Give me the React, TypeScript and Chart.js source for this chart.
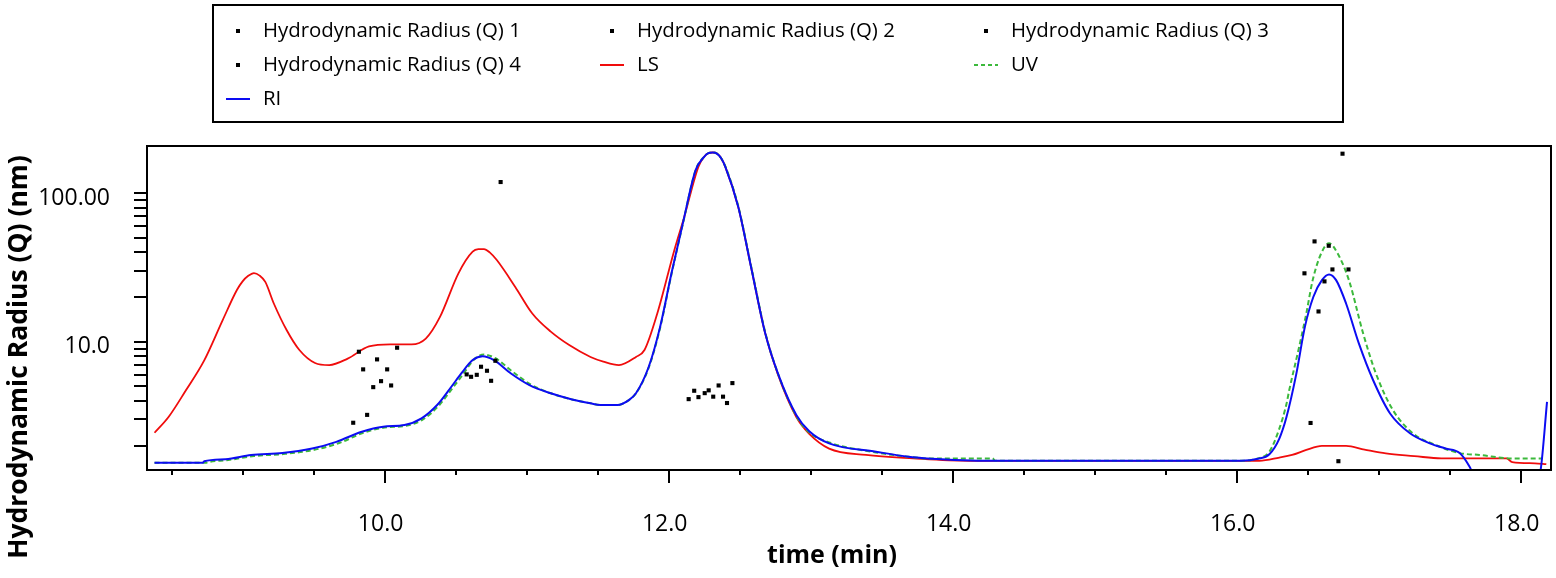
import React, { useEffect, useRef } from 'react';
import { Chart, registerables } from 'chart.js';
Chart.register(...registerables);

// ---------- data ----------
const LS_T = [8.38, 8.48, 8.60, 8.73, 8.86, 8.96, 9.00, 9.04, 9.08, 9.12, 9.16, 9.22, 9.31, 9.40, 9.51, 9.61, 9.74, 9.89, 10.04, 10.19, 10.29, 10.39, 10.52, 10.62, 10.66, 10.70, 10.74, 10.79, 10.92, 11.04, 11.17, 11.30, 11.45, 11.54, 11.65, 11.77, 11.83, 11.92, 12.04, 12.11, 12.21, 12.25, 12.28, 12.31, 12.34, 12.37, 12.40, 12.49, 12.58, 12.68, 12.77, 12.90, 12.99, 13.13, 13.39, 13.72, 14.11, 16.16, 16.30, 16.39, 16.49, 16.60, 16.77, 16.90, 17.05, 17.25, 17.44, 17.58, 17.90, 17.94, 18.10, 18.18];
const LS_V = [2.44, 3.13, 4.7, 7.5, 14.0, 22.3, 25.5, 27.8, 29.0, 27.9, 25.3, 18.1, 12.0, 8.8, 7.2, 6.97, 7.7, 9.3, 9.6, 9.6, 10.5, 14.7, 28.9, 40.4, 42.0, 42.1, 40.0, 35.5, 23.4, 15.5, 11.7, 9.5, 7.9, 7.35, 6.97, 7.9, 8.8, 15.5, 41.4, 69.3, 151, 176, 186, 188, 185, 172, 150, 81, 32, 11.4, 6.0, 3.1, 2.4, 1.91, 1.73, 1.64, 1.58, 1.58, 1.66, 1.73, 1.87, 1.99, 1.99, 1.88, 1.77, 1.70, 1.64, 1.64, 1.64, 1.55, 1.52, 1.50];

const UV_T = [8.38, 8.74, 8.76, 8.90, 9.08, 9.30, 9.50, 9.68, 9.85, 10.0, 10.15, 10.27, 10.38, 10.48, 10.55, 10.63, 10.70, 10.78, 10.90, 11.03, 11.17, 11.32, 11.45, 11.52, 11.64, 11.72, 11.77, 11.86, 11.94, 12.02, 12.10, 12.19, 12.25, 12.28, 12.31, 12.34, 12.37, 12.40, 12.49, 12.58, 12.68, 12.77, 12.90, 12.99, 13.13, 13.46, 13.69, 13.82, 14.28, 14.30, 16.03, 16.15, 16.23, 16.30, 16.35, 16.37, 16.44, 16.49, 16.535, 16.595, 16.65, 16.71, 16.79, 16.89, 16.98, 17.10, 17.24, 17.40, 17.57, 17.71, 17.94, 18.15];
const UV_V = [1.53, 1.53, 1.55, 1.60, 1.70, 1.76, 1.87, 2.08, 2.44, 2.65, 2.72, 3.0, 3.7, 4.9, 6.0, 7.6, 8.2, 7.75, 6.3, 5.15, 4.5, 4.09, 3.85, 3.75, 3.75, 4.05, 4.5, 6.7, 12.4, 28.5, 62, 143, 176, 186, 188, 185, 172, 151, 82, 32.5, 11.6, 6.1, 3.15, 2.45, 2.1, 1.80, 1.68, 1.64, 1.64, 1.58, 1.58, 1.64, 1.82, 2.6, 3.8, 4.73, 9.26, 15.5, 26.0, 39.4, 46.0, 39.4, 26.0, 11.4, 6.12, 3.47, 2.42, 2.02, 1.78, 1.73, 1.64, 1.64];

const RI_T = [8.38, 8.72, 8.73, 8.88, 9.06, 9.28, 9.49, 9.66, 9.84, 9.99, 10.14, 10.26, 10.37, 10.47, 10.54, 10.62, 10.69, 10.77, 10.89, 11.02, 11.17, 11.32, 11.45, 11.52, 11.64, 11.72, 11.77, 11.86, 11.94, 12.02, 12.10, 12.19, 12.25, 12.28, 12.31, 12.34, 12.37, 12.40, 12.49, 12.58, 12.68, 12.77, 12.90, 12.99, 13.13, 13.46, 13.69, 13.82, 14.27, 16.03, 16.15, 16.23, 16.30, 16.35, 16.42, 16.48, 16.54, 16.60, 16.65, 16.70, 16.77, 16.86, 16.96, 17.08, 17.22, 17.36, 17.47, 17.57, 17.64, 17.70, 18.10, 18.14, 18.185];
const RI_V = [1.53, 1.53, 1.57, 1.62, 1.73, 1.78, 1.91, 2.12, 2.48, 2.68, 2.75, 3.05, 3.75, 4.98, 6.12, 7.53, 8.0, 7.53, 6.12, 5.11, 4.5, 4.09, 3.85, 3.75, 3.75, 4.05, 4.5, 6.79, 12.6, 28.9, 62.7, 143, 176, 186, 188, 185, 172, 150, 81, 32, 11.4, 6.1, 3.2, 2.5, 2.07, 1.82, 1.68, 1.64, 1.58, 1.58, 1.63, 1.75, 2.23, 3.1, 6.1, 12.6, 20.1, 26.0, 28.4, 26.0, 18.1, 9.75, 5.53, 3.29, 2.42, 2.07, 1.91, 1.78, 1.44, 1.1, 1.1, 1.37, 3.94];

const Q1_T = [9.779, 9.819, 9.849, 9.877, 9.92, 9.947, 9.975, 10.018, 10.046, 10.088];
const Q1_V = [2.85, 8.57, 6.52, 3.22, 4.95, 7.61, 5.43, 6.52, 5.08, 9.12];
const Q2_T = [10.578, 10.609, 10.649, 10.679, 10.721, 10.75, 10.78, 10.817];
const Q2_V = [6.03, 5.81, 5.99, 6.79, 6.38, 5.46, 7.45, 119];
const Q3_T = [12.141, 12.18, 12.21, 12.254, 12.282, 12.314, 12.352, 12.383, 12.411, 12.449];
const Q3_V = [4.11, 4.68, 4.24, 4.51, 4.71, 4.27, 5.08, 4.27, 3.87, 5.27];
const Q4_T = [16.477, 16.52, 16.548, 16.576, 16.618, 16.648, 16.674, 16.716, 16.745, 16.787];
const Q4_V = [28.9, 2.84, 47.4, 16.0, 25.5, 44.3, 30.7, 1.57, 184.6, 30.7];

const X_MAJOR_TICKS = [10, 12, 14, 16, 18];
const X_TICK_LABELS = ['10.0', '12.0', '14.0', '16.0', '18.0'];
const X_MINOR_TICKS = [8.5, 9, 9.5, 10.5, 11, 11.5, 12.5, 13, 13.5, 14.5, 15, 15.5, 16.5, 17, 17.5];
const Y_TICKS = [2, 3, 4, 5, 6, 7, 8, 9, 10, 20, 30, 40, 50, 60, 70, 80, 90, 100];
const Y_TICK_LABELS = ['', '', '', '', '', '', '', '', '10.0', '', '', '', '', '', '', '', '', '100.00'];

const SERIES_NAMES = ['Hydrodynamic Radius (Q) 1', 'Hydrodynamic Radius (Q) 2', 'Hydrodynamic Radius (Q) 3', 'Hydrodynamic Radius (Q) 4', 'LS', 'UV', 'RI'];
const X_TITLE = 'time (min)';
const Y_TITLE = 'Hydrodynamic Radius (Q) (nm)';

const RED = '#f00c0c';
const GREEN = '#3cb93c';
const BLUE = '#0c0cf2';
const FONT = '"Open Sans", "Noto Sans", sans-serif';

const pts = (t: number[], v: number[]) => t.map((x, i) => ({ x, y: v[i] }));

const decor = {
  id: 'decor',
  afterDatasetsDraw(chart: any) {
    const { ctx, chartArea } = chart;
    const xs = chart.scales.x;
    ctx.save();
    ctx.strokeStyle = '#000';
    ctx.lineWidth = 2;
    ctx.strokeRect(chartArea.left, chartArea.top, chartArea.right - chartArea.left, chartArea.bottom - chartArea.top);
    ctx.beginPath();
    for (const v of X_MAJOR_TICKS) {
      const px = Math.round(xs.getPixelForValue(v));
      ctx.moveTo(px, chartArea.bottom);
      ctx.lineTo(px, chartArea.bottom + 13);
    }
    for (const v of X_MINOR_TICKS) {
      const px = Math.round(xs.getPixelForValue(v));
      ctx.moveTo(px, chartArea.bottom);
      ctx.lineTo(px, chartArea.bottom + 5);
    }
    ctx.stroke();
    ctx.restore();
  },
  afterDraw(chart: any) {
    const { ctx } = chart;
    ctx.save();
    // legend box
    ctx.strokeStyle = '#000';
    ctx.lineWidth = 2;
    ctx.strokeRect(213, 5, 1130, 117);
    ctx.font = `20.4px ${FONT}`;
    ctx.fillStyle = '#000';
    ctx.textBaseline = 'middle';
    ctx.textAlign = 'left';
    const cols = [238, 612, 986];
    const rows = [31, 65, 99];
    const kinds = ['pt', 'pt', 'pt', 'pt', RED, GREEN, BLUE];
    SERIES_NAMES.forEach((name, i) => {
      const c = cols[i % 3];
      const r = rows[Math.floor(i / 3)];
      const k = kinds[i];
      if (k === 'pt') {
        ctx.fillStyle = '#000';
        ctx.fillRect(c - 2, r - 2, 4, 4);
      } else {
        ctx.strokeStyle = k;
        ctx.lineWidth = 2;
        ctx.setLineDash(k === GREEN ? [4, 3] : []);
        ctx.beginPath();
        ctx.moveTo(c - 12, r);
        ctx.lineTo(c + 12, r);
        ctx.stroke();
        ctx.setLineDash([]);
      }
      ctx.fillStyle = '#000';
      ctx.fillText(name, c + 25, r);
    });
    // axis titles
    ctx.font = `bold 25px ${FONT}`;
    ctx.textAlign = 'center';
    ctx.textBaseline = 'middle';
    ctx.fillText(X_TITLE, 832, 556);
    ctx.font = `bold 26.5px ${FONT}`;
    ctx.translate(19, 357);
    ctx.rotate(-Math.PI / 2);
    ctx.fillText(Y_TITLE, 0, 0);
    ctx.restore();
  },
};

export default function App() {
  const ref = useRef<HTMLCanvasElement>(null);
  useEffect(() => {
    if (!ref.current) return;
    const scatterStyle = { showLine: false, pointStyle: 'rect', pointRadius: 2.9, pointBackgroundColor: '#000', pointBorderWidth: 0, backgroundColor: '#000', borderColor: '#000', order: 0 };
    const lineStyle = { showLine: true, pointRadius: 0, borderWidth: 2, cubicInterpolationMode: 'monotone', clip: 0 };
    const chart = new Chart(ref.current, {
      type: 'scatter',
      data: {
        datasets: [
          { label: SERIES_NAMES[0], data: pts(Q1_T, Q1_V), ...scatterStyle },
          { label: SERIES_NAMES[1], data: pts(Q2_T, Q2_V), ...scatterStyle },
          { label: SERIES_NAMES[2], data: pts(Q3_T, Q3_V), ...scatterStyle },
          { label: SERIES_NAMES[3], data: pts(Q4_T, Q4_V), ...scatterStyle },
          { label: SERIES_NAMES[4], data: pts(LS_T, LS_V), ...lineStyle, borderColor: RED, borderWidth: 1.8, order: 3 },
          { label: SERIES_NAMES[5], data: pts(UV_T, UV_V), ...lineStyle, borderColor: GREEN, borderDash: [5, 3], order: 2 },
          { label: SERIES_NAMES[6], data: pts(RI_T, RI_V), ...lineStyle, borderColor: BLUE, order: 1 },
        ] as any,
      },
      options: {
        responsive: false,
        animation: false,
        devicePixelRatio: 1,
        layout: { padding: { left: 0, right: 5, top: 146, bottom: 0 } },
        plugins: { legend: { display: false }, tooltip: { enabled: false }, title: { display: false } },
        scales: {
          x: {
            type: 'linear',
            min: 8.327,
            max: 18.213,
            afterBuildTicks: (s: any) => { s.ticks = X_MAJOR_TICKS.map((value) => ({ value })); },
            afterFit: (s: any) => { s.height = 108; s.paddingLeft = 0; s.paddingRight = 0; },
            grid: { display: false, drawTicks: false },
            border: { display: false },
            ticks: {
              autoSkip: false,
              maxRotation: 0,
              padding: 41,
              labelOffset: -4,
              color: '#000',
              font: { family: FONT, size: 23 },
              callback: (_v: any, i: number) => X_TICK_LABELS[i],
            },
          },
          y: {
            type: 'logarithmic',
            min: 1.37,
            max: 208,
            afterBuildTicks: (s: any) => { s.ticks = Y_TICKS.map((value) => ({ value })); },
            afterFit: (s: any) => { s.width = 147; s.paddingTop = 0; s.paddingBottom = 0; },
            grid: { display: true, drawOnChartArea: false, drawTicks: true, tickLength: 13, color: '#000', lineWidth: 2 },
            border: { display: false },
            ticks: {
              autoSkip: false,
              padding: 24,
              labelOffset: 5,
              color: '#000',
              font: { family: FONT, size: 23 },
              callback: (_v: any, i: number) => Y_TICK_LABELS[i],
            },
          },
        },
      } as any,
      plugins: [decor],
    });
    return () => chart.destroy();
  }, []);
  return (
    <div style={{ position: 'fixed', left: 0, top: 0, width: 1556, height: 578, background: '#fff' }}>
      <canvas ref={ref} width={1556} height={578} style={{ width: 1556, height: 578, display: 'block' }} />
    </div>
  );
}
